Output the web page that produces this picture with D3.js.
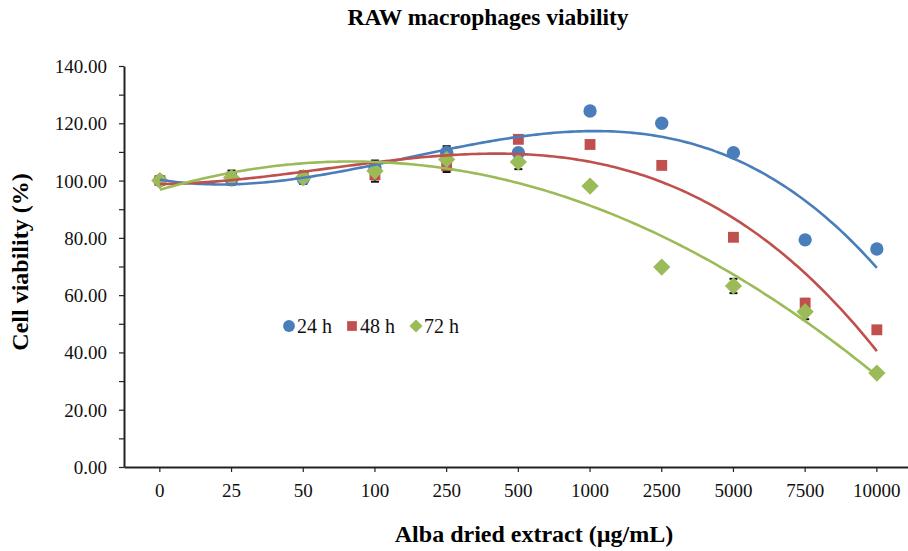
<!DOCTYPE html>
<html>
<head>
<meta charset="utf-8">
<script src="https://cdn.jsdelivr.net/npm/d3@7"></script>
<style>
  body { margin: 0; background: #fff; }
  svg { font-family: "Liberation Serif", "Times New Roman", serif; }
  .axis path, .axis line { stroke: #222; }
  .axis text { fill: #111; }
</style>
</head>
<body>
<svg id="chart"></svg>
<script>
// doses on the category axis
const doses = ["0", "25", "50", "100", "250", "500", "1000", "2500", "5000", "7500", "10000"];
const seriesNames = ["24 h", "48 h", "72 h"];

// cell viability (%) per time point
const v24 = [100, 100.3, 100.6, 104.5, 109.8, 109.7, 124.3, 120.0, 109.7, 79.3, 76.1];
const v48 = [100, 101.2, 101.5, 102.0, 105.2, 114.4, 112.6, 105.3, 80.2, 57.2, 47.9];
const v72 = [100, 101.0, 101.0, 103.3, 107.4, 106.5, 98.1, 69.8, 63.2, 54.2, 32.8];

// standard deviations (mostly hidden under the markers)
const e24 = [1.0, 1.5, 1.5, 2.5, 2.2, 1.2, 1.0, 1.0, 1.0, 1.0, 1.0];
const e48 = [1.0, 1.5, 1.5, 2.4, 2.2, 1.0, 1.0, 1.0, 1.0, 1.5, 1.0];
const e72 = [1.0, 2.5, 2.2, 2.5, 2.0, 2.5, 1.0, 1.0, 2.5, 2.6, 1.0];

const yTicks = [0, 20, 40, 60, 80, 100, 120, 140];

const width = 908, height = 551;
const margin = {top: 66, left: 124, bottom: 84};
const bandStep = 71.7;
const serif = '"Liberation Serif", "Times New Roman", serif';

const colors = ["#4a7ebb", "#c0504d", "#9bbb59"];
const shapes = [d3.symbolCircle, d3.symbolSquare, d3.symbolDiamond2];

const series = [
    {name: seriesNames[0], values: v24, errors: e24},
    {name: seriesNames[1], values: v48, errors: e48},
    {name: seriesNames[2], values: v72, errors: e72}
];

// least squares cubic, same idea as an Excel polynomial trendline
function polyFit(ys, order) {
    const n = order + 1;
    const A = Array.from({length: n}, () => new Array(n + 1).fill(0));
    ys.forEach((y, x) => {
        for (let r = 0; r < n; r++) {
            for (let c = 0; c < n; c++) A[r][c] += Math.pow(x, r + c);
            A[r][n] += y * Math.pow(x, r);
        }
    });
    for (let i = 0; i < n; i++) {
        let p = i;
        for (let k = i + 1; k < n; k++) if (Math.abs(A[k][i]) > Math.abs(A[p][i])) p = k;
        [A[i], A[p]] = [A[p], A[i]];
        for (let k = i + 1; k < n; k++) {
            const f = A[k][i] / A[i][i];
            for (let c = i; c <= n; c++) A[k][c] -= f * A[i][c];
        }
    }
    const coef = new Array(n).fill(0);
    for (let i = n - 1; i >= 0; i--) {
        let s = A[i][n];
        for (let c = i + 1; c < n; c++) s -= A[i][c] * coef[c];
        coef[i] = s / A[i][i];
    }
    return x => coef.reduce((acc, a, i) => acc + a * Math.pow(x, i), 0);
}

const svg = d3.select('#chart')
    .attr('width', width)
    .attr('height', height);

const xScale = d3.scaleBand()
    .domain(doses)
    .range([margin.left, margin.left + bandStep * doses.length])
    .padding(0);

const yScale = d3.scaleLinear()
    .domain([0, 140])
    .range([height - margin.bottom, margin.top]);

const xCenter = d => xScale(d) + xScale.bandwidth() / 2;

// index scale for the trendlines
const xIndex = d3.scaleLinear()
    .domain([0, doses.length - 1])
    .range([xCenter(doses[0]), xCenter(doses[doses.length - 1])]);

// minor y ticks
svg.append('g')
    .attr('class', 'axis')
    .attr('transform', `translate(${margin.left},0)`)
    .call(d3.axisLeft(yScale).tickValues(d3.range(10, 140, 20)).tickSize(5).tickFormat(''))
    .call(g => g.select('.domain').remove())
    .selectAll('line').attr('stroke-width', 1.2);

// y axis
const yAxisG = svg.append('g')
    .attr('class', 'axis')
    .attr('transform', `translate(${margin.left},0)`)
    .call(d3.axisLeft(yScale).tickValues(yTicks).tickFormat(d3.format('.2f')).tickSize(5).tickSizeOuter(0).tickPadding(12))
    .attr('font-family', serif)
    .attr('font-size', 19);
yAxisG.select('.domain').attr('stroke-width', 2);
yAxisG.selectAll('line').attr('stroke-width', 1.2);
yAxisG.selectAll('text').attr('dy', '0.34em');

// x axis
const xAxisG = svg.append('g')
    .attr('class', 'axis')
    .attr('transform', `translate(0,${height - margin.bottom})`)
    .call(d3.axisBottom(xScale).tickSize(5).tickSizeOuter(0).tickPadding(12))
    .attr('font-family', serif)
    .attr('font-size', 19);
xAxisG.select('.domain').attr('stroke-width', 2);
xAxisG.selectAll('line').attr('stroke-width', 1.2);

// error bars
const capW = 8;
series.forEach(s => {
    const g = svg.append('g').attr('class', 'errors');
    s.values.forEach((v, i) => {
        const cx = xCenter(doses[i]);
        const y0 = yScale(v - s.errors[i]), y1 = yScale(v + s.errors[i]);
        g.append('line').attr('x1', cx).attr('x2', cx).attr('y1', y0).attr('y2', y1)
            .attr('stroke', '#111').attr('stroke-width', 1.2);
        [y0, y1].forEach(y => g.append('line')
            .attr('x1', cx - capW / 2).attr('x2', cx + capW / 2).attr('y1', y).attr('y2', y)
            .attr('stroke', '#111').attr('stroke-width', 2));
    });
});

// markers
const markerSize = [140, 118, 190];
series.forEach((s, k) => {
    svg.append('g').selectAll('path')
        .data(s.values)
        .join('path')
        .attr('transform', (d, i) => `translate(${xCenter(doses[i])},${yScale(d)})`)
        .attr('d', d3.symbol().type(shapes[k]).size(markerSize[k]))
        .attr('fill', colors[k]);
});

// polynomial trendlines
const line = d3.line()
    .x(d => xIndex(d[0]))
    .y(d => yScale(d[1]));
series.forEach((s, k) => {
    const f = polyFit(s.values, 3);
    const pts = d3.range(0, 10.001, 0.05).map(x => [x, f(x)]);
    svg.append('path')
        .datum(pts)
        .attr('d', line)
        .attr('fill', 'none')
        .attr('stroke', colors[k])
        .attr('stroke-width', 2.6);
});

// legend
const legendX = [289, 352, 416];
const legendSize = [110, 95, 110];
const legend = svg.append('g');
series.forEach((s, k) => {
    legend.append('path')
        .attr('transform', `translate(${legendX[k]},326)`)
        .attr('d', d3.symbol().type(shapes[k]).size(legendSize[k]))
        .attr('fill', colors[k]);
    legend.append('text')
        .attr('x', legendX[k] + 8)
        .attr('y', 333)
        .attr('font-size', 20)
        .attr('fill', '#111')
        .text(s.name);
});

// titles
svg.append('text')
    .attr('x', 488)
    .attr('y', 25)
    .attr('text-anchor', 'middle')
    .attr('font-weight', 'bold')
    .attr('font-size', 23.5)
    .text('RAW macrophages viability');

svg.append('text')
    .attr('x', 534)
    .attr('y', 542)
    .attr('text-anchor', 'middle')
    .attr('font-weight', 'bold')
    .attr('font-size', 24)
    .text('Alba dried extract (µg/mL)');

svg.append('text')
    .attr('transform', 'translate(28,262) rotate(-90)')
    .attr('text-anchor', 'middle')
    .attr('font-weight', 'bold')
    .attr('font-size', 24)
    .text('Cell viability (%)');
</script>
</body>
</html>
